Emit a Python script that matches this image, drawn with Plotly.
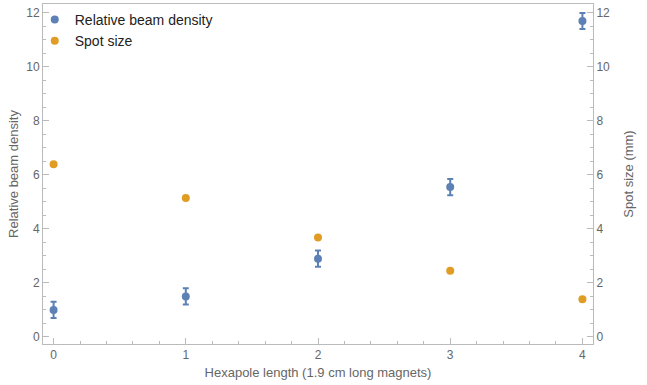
import plotly.graph_objects as go

hexapole_length = [0, 1, 2, 3, 4]
beam_density = [1.0, 1.5, 2.9, 5.55, 11.7]
beam_density_err = [0.3, 0.3, 0.3, 0.3, 0.3]
spot_size = [6.4, 5.15, 3.68, 2.45, 1.4]

blue = "#5E81B5"
orange = "#E19C24"
axis_col = "#BBBBBB"
text_col = "#666666"
font = "Liberation Sans, Arial, sans-serif"

fig = go.Figure()
fig.add_trace(go.Scatter(
    x=hexapole_length, y=beam_density, mode="markers", name="Relative beam density",
    marker=dict(color=blue, size=8),
    error_y=dict(type="data", array=beam_density_err, color=blue, thickness=2, width=3),
))
fig.add_trace(go.Scatter(
    x=hexapole_length, y=spot_size, mode="markers", name="Spot size",
    marker=dict(color=orange, size=8), yaxis="y2",
))

yr = [-0.26, 12.33]
common = dict(showgrid=False, zeroline=False, showline=True, linecolor=axis_col, linewidth=1,
              ticks="inside", ticklen=6, tickcolor=axis_col, automargin=False,
              tickfont=dict(family=font, size=12, color=text_col))
fig.update_layout(
    width=647, height=385,
    margin=dict(l=43, r=54, t=4, b=41),
    paper_bgcolor="white", plot_bgcolor="white",
    font=dict(family=font, color=text_col),
    xaxis=dict(range=[-0.08, 4.08], tickvals=hexapole_length, mirror=True,
               minor=dict(dtick=0.2, ticks="inside", ticklen=3, tickcolor=axis_col),
               title=dict(text="Hexapole length (1.9 cm long magnets)", font=dict(size=13, color=text_col), standoff=6),
               **common),
    yaxis=dict(range=yr, dtick=2, mirror=False,
               minor=dict(dtick=0.5, ticks="inside", ticklen=3, tickcolor=axis_col),
               title=dict(text="Relative beam density", font=dict(size=13, color=text_col), standoff=4),
               **common),
    yaxis2=dict(range=yr, dtick=2, overlaying="y", side="right",
                minor=dict(dtick=0.5, ticks="inside", ticklen=3, tickcolor=axis_col),
                title=dict(text="Spot size (mm)", font=dict(size=13, color=text_col), standoff=14),
                **common),
    legend=dict(x=-0.015, y=1.0, xanchor="left", yanchor="top", bgcolor="rgba(0,0,0,0)",
                font=dict(family=font, size=14, color="#222222"), tracegroupgap=4),
    showlegend=True,
)
fig.write_html("out.html", config={"displayModeBar": False},
               post_script="document.body.style.margin='0';")
